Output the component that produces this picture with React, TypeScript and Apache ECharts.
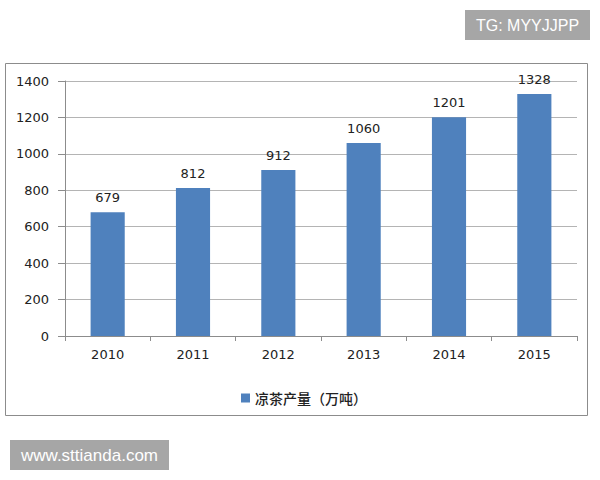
import React, { useEffect, useRef } from "react";
import * as echarts from "echarts";

const categories = ["2010", "2011", "2012", "2013", "2014", "2015"];
const values = [679, 812, 912, 1060, 1201, 1328];
const seriesName = "凉茶产量（万吨）";
const watermarkTop = "TG: MYYJJPP";
const watermarkBottom = "www.sttianda.com";

export default function App() {
  const ref = useRef<HTMLDivElement>(null);
  useEffect(() => {
    const chart = echarts.init(ref.current!, null, { renderer: "svg" });
    const numFont = "'DejaVu Sans', sans-serif";
    const cjkFont = "'Noto Sans CJK SC', sans-serif";
    chart.setOption({
      animation: false,
      backgroundColor: "#ffffff",
      textStyle: { fontFamily: numFont },
      graphic: [
        {
          type: "rect",
          shape: { x: 5.5, y: 63.5, width: 582, height: 352 },
          style: { fill: "none", stroke: "#8c8c8c", lineWidth: 1 },
          z: -1,
        },
        {
          type: "rect",
          shape: { x: 465, y: 10, width: 125, height: 30 },
          style: { fill: "#a6a6a6" },
        },
        {
          type: "text",
          x: 527.5,
          y: 25,
          style: {
            text: watermarkTop,
            fill: "#ffffff",
            font: "16px 'Liberation Sans', sans-serif",
            align: "center",
            verticalAlign: "middle",
          },
        },
        {
          type: "rect",
          shape: { x: 10, y: 440, width: 159, height: 30 },
          style: { fill: "#a6a6a6" },
        },
        {
          type: "text",
          x: 89.5,
          y: 455,
          style: {
            text: watermarkBottom,
            fill: "#ffffff",
            font: "17px 'Liberation Sans', sans-serif",
            align: "center",
            verticalAlign: "middle",
          },
        },
      ],
      legend: {
        data: [seriesName],
        left: 236,
        top: 386,
        itemWidth: 9,
        itemHeight: 9,
        itemGap: 4,
        icon: "rect",
        textStyle: { fontSize: 14, color: "#222", fontFamily: cjkFont, fontWeight: 500 },
      },
      grid: { left: 65, right: 23, top: 81, bottom: 144, containLabel: false },
      xAxis: {
        type: "category",
        data: categories,
        axisLine: { lineStyle: { color: "#8c8c8c" } },
        axisTick: { show: true, alignWithLabel: false, length: 5, lineStyle: { color: "#8c8c8c" } },
        axisLabel: { color: "#222", fontSize: 13, margin: 12, fontFamily: numFont },
      },
      yAxis: {
        type: "value",
        min: 0,
        max: 1400,
        interval: 200,
        axisLine: { show: true, lineStyle: { color: "#8c8c8c" } },
        axisTick: { show: true, length: 7, inside: false, lineStyle: { color: "#8c8c8c" } },
        axisLabel: {
          color: "#222",
          fontSize: 13,
          margin: 16,
          fontFamily: numFont,
          formatter: (v: number) => String(v),
        },
        splitLine: { lineStyle: { color: "#b4b4b4" } },
      },
      series: [
        {
          name: seriesName,
          type: "bar",
          data: values,
          barWidth: "40%",
          itemStyle: { color: "#4f81bd" },
          label: {
            show: true,
            position: "top",
            distance: 8,
            color: "#222",
            fontSize: 13,
            fontFamily: numFont,
          },
        },
      ],
    });
    return () => chart.dispose();
  }, []);
  return (
    <div
      ref={ref}
      style={{ position: "absolute", left: 0, top: 0, width: 600, height: 480 }}
    />
  );
}
